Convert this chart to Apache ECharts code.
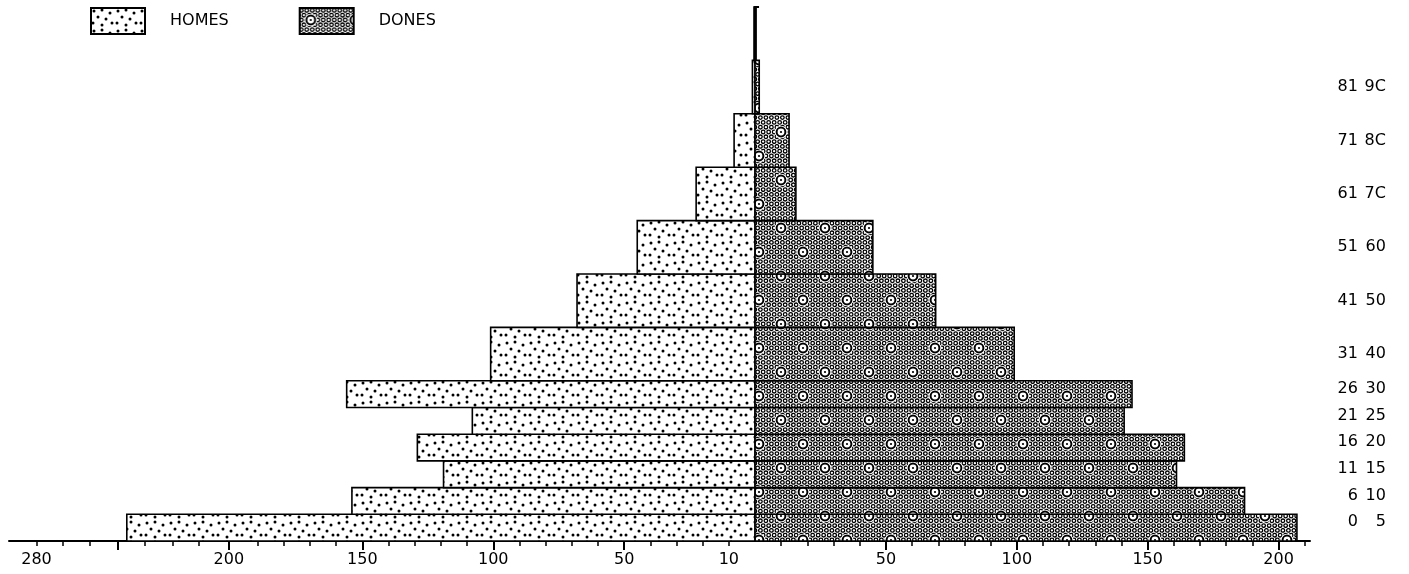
<!DOCTYPE html>
<html><head><meta charset="utf-8">
<script src="https://cdn.jsdelivr.net/npm/echarts@6/dist/echarts.min.js"></script>
<style>html,body{margin:0;padding:0;background:#fff}#c{width:1409px;height:574px}</style>
</head><body><div id="c"></div>
<script>
// ---- data ----
const ageLow  = [0, 5, 10, 15, 20, 25, 30, 40, 50, 60, 70, 80, 90];
const ageHigh = [5, 10, 15, 20, 25, 30, 40, 50, 60, 70, 80, 90, 100];
const groupLabelLow  = ['0', '6', '11', '16', '21', '26', '31', '41', '51', '61', '71', '81', ''];
const groupLabelHigh = ['5', '10', '15', '20', '25', '30', '40', '50', '60', '7C', '8C', '9C', ''];
const homes = [240, 154, 119, 129, 108, 156, 101, 68, 45, 22.5, 8, 1, 0.4];
const dones = [207, 187, 161, 164, 141, 144, 99, 69, 45, 15.6, 13, 1.6, 0.4];
const xLabelValues = [-274.5, -201, -150, -100, -50, -10, 50, 100, 150, 200];
const xLabelTexts  = ['280', '200', '150', '100', '50', '10', '50', '100', '150', '200'];
const xMinorTicks = [-274.5, -264.5, -254, -233, -222.5, -212.5, -190, -180, -170, -160, -140, -130, -120, -110,
  -90, -80, -70, -60, -40, -30, -20, -10, 10, 20, 30, 40, 60, 70, 80, 90, 110, 120, 130, 140, 160, 170, 180, 190, 210];
const xMajorTicks = [-243.5, -201, -150, -100, -50, 50, 100, 150, 200];
const yTicks = [0, 5, 10, 15, 20, 25, 30, 40, 50, 60, 70, 80, 90, 100];

// ---- patterns ----
function makeCanvas(w, h) { const c = document.createElement('canvas'); c.width = w; c.height = h; return c; }
function homesPattern() {
  const c = makeCanvas(24, 20), g = c.getContext('2d');
  g.fillStyle = '#fff'; g.fillRect(0, 0, 24, 20);
  g.fillStyle = '#000';
  const pts = [[3,3],[11,2],[19,5],[7,9],[15,11],[2,15],[11,17],[21,15]];
  pts.forEach(p => { g.beginPath(); g.arc(p[0], p[1], 1.5, 0, Math.PI * 2); g.fill(); });
  return c;
}
function donesPattern() {
  const W = 44, H = 48, c = makeCanvas(W, H), g = c.getContext('2d');
  g.fillStyle = '#fff'; g.fillRect(0, 0, W, H);
  g.strokeStyle = '#000';
  for (let r = 0; r < 10; r++) {
    for (let i = -1; i < 9; i++) {
      const x = i * 5.5 + (r % 2) * 2.75 + 1.4, y = r * 4.8 + 2.4;
      g.lineWidth = 1.3; g.beginPath(); g.arc(x, y, 1.8, 0, Math.PI * 2); g.stroke();
    }
  }
  [[11, 12], [33, 36]].forEach(p => {
    g.fillStyle = '#fff'; g.beginPath(); g.arc(p[0], p[1], 6.3, 0, Math.PI * 2); g.fill();
    g.lineWidth = 2; g.beginPath(); g.arc(p[0], p[1], 4.4, 0, Math.PI * 2); g.stroke();
    g.fillStyle = '#000'; g.beginPath(); g.arc(p[0], p[1], 1.1, 0, Math.PI * 2); g.fill();
  });
  return c;
}
const homesFill = { image: homesPattern(), repeat: 'repeat' };
const donesFill = { image: donesPattern(), repeat: 'repeat' };

const FONT = 'DejaVu Sans';

function barRender(params, api) {
  const lo = api.value(0), hi = api.value(1), v = api.value(2);
  const p0 = api.coord([0, hi]);
  const p1 = api.coord([v, lo]);
  return {
    type: 'rect',
    shape: { x: Math.min(p0[0], p1[0]), y: p0[1], width: Math.abs(p1[0] - p0[0]), height: p1[1] - p0[1] },
    style: { fill: api.visual('color'), stroke: '#000', lineWidth: 1.6 }
  };
}
const labelCol1 = 230.3, labelCol2 = 241;
function labelRender(params, api) {
  const lo = api.value(0), hi = api.value(1);
  const mid = (lo + hi) / 2 + (hi - lo === 5 ? 1 : 0);
  const a = api.coord([labelCol1, mid]);
  const b = api.coord([labelCol2, mid]);
  const st = t => ({ text: t, fill: '#000', font: '16px "' + FONT + '"', align: 'right', verticalAlign: 'middle' });
  return {
    type: 'group',
    children: [
      { type: 'text', x: a[0], y: a[1], style: st(groupLabelLow[params.dataIndex]) },
      { type: 'text', x: b[0], y: b[1], style: st(groupLabelHigh[params.dataIndex]) }
    ]
  };
}

const chart = echarts.init(document.getElementById('c'), null, { renderer: 'canvas' });
chart.setOption({
  animation: false,
  backgroundColor: '#fff',
  grid: { left: 9, right: 99, top: 7, bottom: 33, containLabel: false, outerBoundsMode: 'none' },
  legend: {
    data: ['HOMES', 'DONES'], left: 90, top: 7, padding: 0, itemWidth: 54, itemHeight: 26, itemGap: 70,
    icon: 'rect', selectedMode: false,
    textStyle: { color: '#000', fontFamily: FONT, fontSize: 16, padding: [0, 0, 0, 20] }
  },
  xAxis: [{
    type: 'value', min: -285, max: 212, position: 'bottom',
    axisLine: { show: true, lineStyle: { color: '#000', width: 2 } },
    axisTick: { show: true, customValues: xMinorTicks, length: 5, lineStyle: { color: '#000', width: 1.5 } },
    axisLabel: {
      show: true, customValues: xLabelValues, margin: 11, color: '#000', fontFamily: FONT, fontSize: 16,
      formatter: v => { const i = xLabelValues.indexOf(v); return i >= 0 ? xLabelTexts[i] : ''; }
    },
    splitLine: { show: false }
  }, {
    type: 'value', min: -285, max: 212, position: 'bottom', gridIndex: 0,
    axisLine: { show: false },
    axisTick: { show: true, customValues: xMajorTicks, length: 9, lineStyle: { color: '#000', width: 2 } },
    axisLabel: { show: false }, splitLine: { show: false }
  }],
  yAxis: {
    type: 'value', min: 0, max: 100,
    axisLine: { show: true, lineStyle: { color: '#000', width: 2 } },
    axisTick: { show: true, inside: true, customValues: yTicks, length: 4, lineStyle: { color: '#000', width: 2 } },
    axisLabel: { show: false }, splitLine: { show: false }
  },
  series: [{
    name: 'HOMES', type: 'custom', renderItem: barRender, xAxisIndex: 0,
    itemStyle: { color: homesFill, borderColor: '#000', borderWidth: 1.5 },
    encode: { x: 2, y: [0, 1] },
    data: ageLow.map((l, i) => [l, ageHigh[i], -homes[i]])
  }, {
    name: 'DONES', type: 'custom', renderItem: barRender, xAxisIndex: 0,
    itemStyle: { color: donesFill, borderColor: '#000', borderWidth: 1.5 },
    encode: { x: 2, y: [0, 1] },
    data: ageLow.map((l, i) => [l, ageHigh[i], dones[i]])
  }, {
    name: 'labels', type: 'custom', renderItem: labelRender, xAxisIndex: 0, silent: true, clip: false,
    encode: { y: [0, 1] },
    data: ageLow.map((l, i) => [l, ageHigh[i]])
  }]
});
</script></body></html>
